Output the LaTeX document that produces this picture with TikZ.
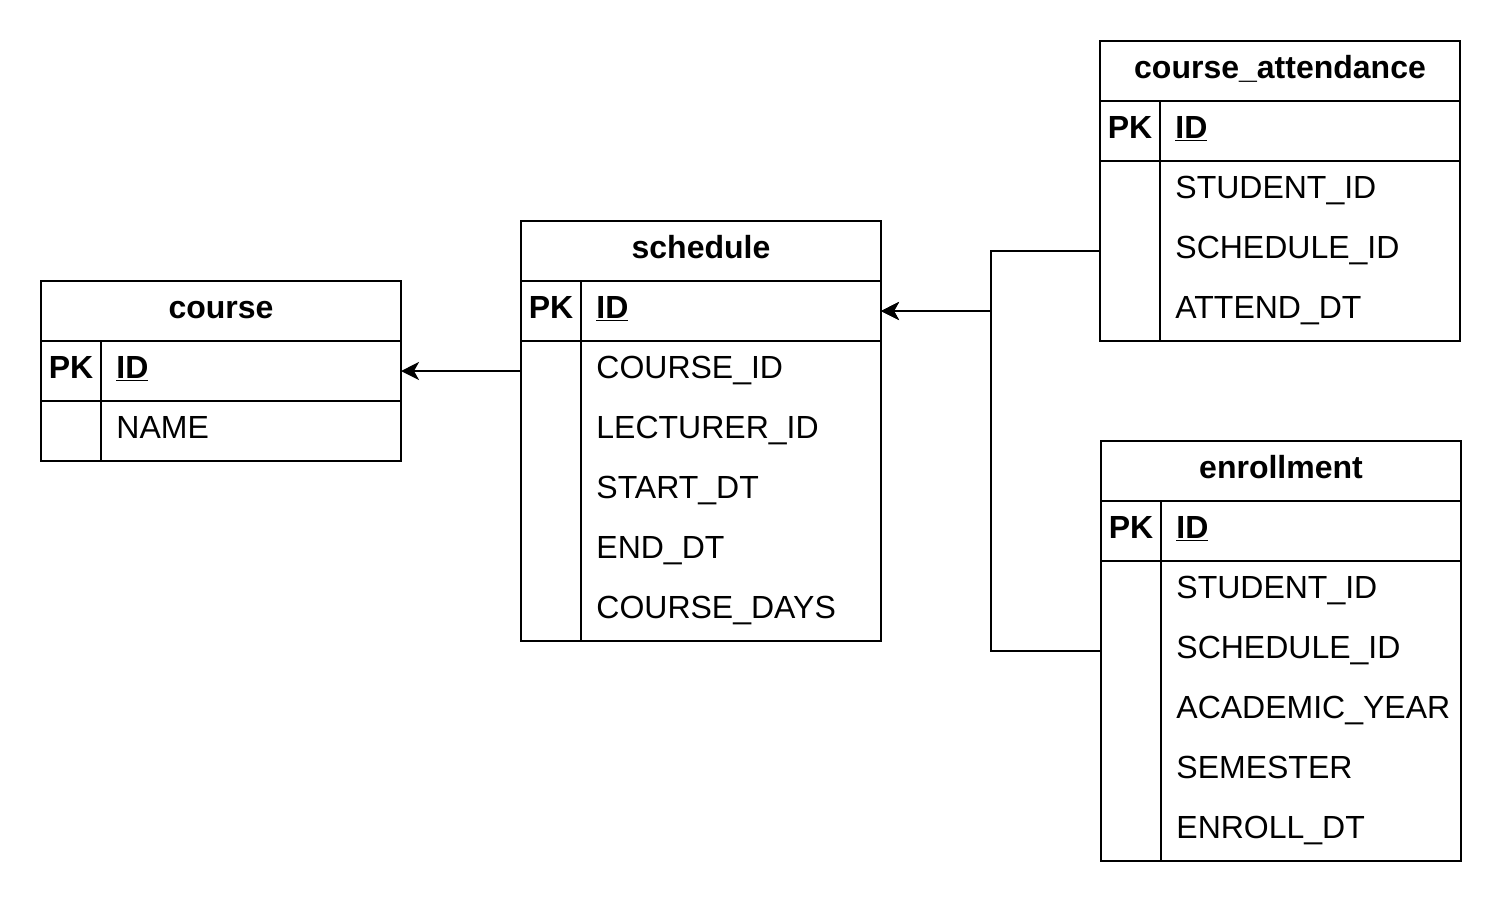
\documentclass[tikz,border=0pt]{standalone}
\usepackage{fontspec}
\setmainfont{Liberation Sans}
\usetikzlibrary{arrows.meta,calc}
\newcommand\erdfont{\fontsize{16}{18}\selectfont}
\newcommand\erdtable[5]{% name, left, top, title, body rows
  \node[hdr] (#1-h) at (#2,#3) {};
  \node[title, anchor=base] (#1-t) at ($(#2,#3)+(180,37)$) {#4};
  \node[tbl, minimum height=30pt] (#1-pk) at (#2,#3+60) {};
  \node[tbl, minimum height=#5*30pt] (#1-b) at (#2,#3+120) {};
  \draw[tline] (#2+60,#3+60) -- (#2+60,#3+120+#5*60);
  \node[pkf, anchor=base] (#1-pkl) at (#2+30,#3+60+37) {PK};
  \node[pkf, anchor=base west] (#1-id) at (#2+75,#3+60+37) {\underline{ID}};
}
\begin{document}
\begin{tikzpicture}[x=0.5pt,y=-0.5pt,
  tline/.style={line width=1pt},
  tbl/.style={draw, line width=1pt, minimum width=180pt, inner sep=0pt, outer sep=0pt, anchor=north west},
  hdr/.style={tbl, minimum height=30pt},
  title/.style={inner sep=0pt, font=\erdfont\bfseries},
  pkf/.style={inner sep=0pt, font=\erdfont\bfseries},
  fld/.style={inner sep=0pt, anchor=base west, font=\erdfont},
  link/.style={line width=1pt, -{Stealth[length=9pt, width=9pt, inset=2.5pt]}}
]
\useasboundingbox (0,0) rectangle (1502,902);

\erdtable{course}{41}{281}{course}{1}
\node[fld] (course-f1) at (116,438) {NAME};

\erdtable{schedule}{521}{221}{schedule}{5}
\node[fld] (schedule-f1) at (596,378) {COURSE\_ID};
\node[fld] (schedule-f2) at (596,438) {LECTURER\_ID};
\node[fld] (schedule-f3) at (596,498) {START\_DT};
\node[fld] (schedule-f4) at (596,558) {END\_DT};
\node[fld] (schedule-f5) at (596,618) {COURSE\_DAYS};

\erdtable{att}{1100}{41}{course\_attendance}{3}
\node[fld] (att-f1) at (1175,198) {STUDENT\_ID};
\node[fld] (att-f2) at (1175,258) {SCHEDULE\_ID};
\node[fld] (att-f3) at (1175,318) {ATTEND\_DT};

\erdtable{enr}{1101}{441}{enrollment}{5}
\node[fld] (enr-f1) at (1176,598) {STUDENT\_ID};
\node[fld] (enr-f2) at (1176,658) {SCHEDULE\_ID};
\node[fld] (enr-f3) at (1176,718) {ACADEMIC\_YEAR};
\node[fld] (enr-f4) at (1176,778) {SEMESTER};
\node[fld] (enr-f5) at (1176,838) {ENROLL\_DT};

\coordinate (j1) at (991,251);
\coordinate (j2) at (991,651);
\coordinate (j0) at (991,311);

\draw[link] (schedule-b.west |- 0,371) -- (course-pk.east);
\draw[link] (att-b.west |- 0,251) -- (j1) -- (j0) -- (schedule-pk.east);
\draw[link] (enr-b.west |- 0,651) -- (j2) -- (j0) -- (schedule-pk.east);
\end{tikzpicture}
\end{document}
